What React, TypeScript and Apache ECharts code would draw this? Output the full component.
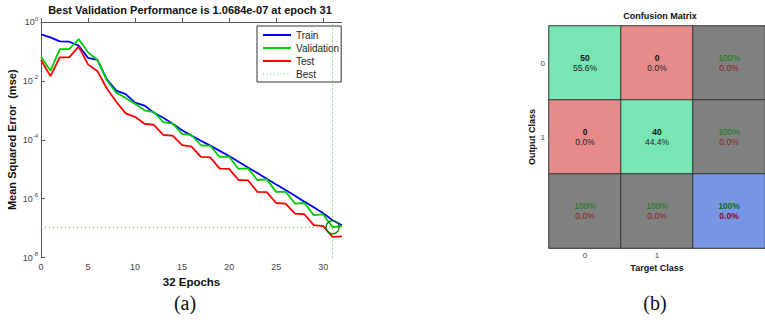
import React, { useEffect, useRef } from 'react';
import * as echarts from 'echarts';

const epochs = [0, 1, 2, 3, 4, 5, 6, 7, 8, 9, 10, 11, 12, 13, 14, 15, 16, 17, 18, 19, 20, 21, 22, 23, 24, 25, 26, 27, 28, 29, 30, 31, 32];
const trainMse = [0.38, 0.302, 0.219, 0.214, 0.158, 0.0603, 0.0513, 0.0112, 0.00468, 0.00355, 0.00182, 0.00145, 8.3e-4, 5.6e-4, 3.5e-4, 2.1e-4, 1.38e-4, 9.3e-5, 6.3e-5, 4.2e-5, 2.8e-5, 1.8e-5, 1.15e-5, 7.4e-6, 4.7e-6, 3.0e-6, 1.95e-6, 1.26e-6, 7.9e-7, 5.1e-7, 3.2e-7, 1.85e-7, 1.25e-7];
const validationMse = [0.066, 0.0219, 0.12, 0.12, 0.263, 0.0933, 0.0513, 0.0105, 0.00398, 0.00263, 0.00166, 0.001, 8.7e-4, 4.0e-4, 3.5e-4, 1.58e-4, 1.45e-4, 6.5e-5, 6.2e-5, 2.6e-5, 2.65e-5, 1.02e-5, 1.07e-5, 4.3e-6, 4.5e-6, 1.7e-6, 1.74e-6, 6.8e-7, 7.1e-7, 2.75e-7, 2.9e-7, 1.0684e-7, 1.17e-7];
const testMse = [0.0513, 0.0145, 0.063, 0.063, 0.145, 0.0363, 0.0214, 0.0055, 0.00195, 7.9e-4, 6.0e-4, 3.5e-4, 3.2e-4, 1.45e-4, 1.38e-4, 6.6e-5, 5.8e-5, 2.6e-5, 2.5e-5, 1.05e-5, 1.02e-5, 4.3e-6, 4.2e-6, 1.7e-6, 1.66e-6, 7.1e-7, 6.8e-7, 3.1e-7, 2.95e-7, 1.26e-7, 1.17e-7, 5.0e-8, 5.2e-8];
const bestEpoch = 31;
const bestValidation = 1.0684e-7;
const yExponentTicks = [-8, -6, -4, -2, 0];

const classLabels = ['0', '1'];
const confusionCounts = [
  [50, 0],
  [0, 40],
];

const FONT = '"Liberation Sans", Arial, Helvetica, sans-serif';

function fmtExp(v: number): string {
  const [m, e] = v.toExponential(4).split('e');
  const sign = e[0] === '-' ? '-' : '+';
  const digits = e.replace(/[+-]/, '').padStart(2, '0');
  return `${m}e${sign}${digits}`;
}

function fmtPct(v: number): string {
  return v >= 99.95 ? '100%' : v.toFixed(1) + '%';
}

export default function App() {
  const ref = useRef<HTMLDivElement>(null);

  useEffect(() => {
    document.body.style.margin = '0';
    const chart = echarts.init(ref.current!, null, { renderer: 'svg' });

    const toLog = (arr: number[]) => epochs.map((e, i) => [e, Math.log10(arr[i])]);
    const bestLog = Math.log10(bestValidation);

    // confusion matrix cells; third value = cell kind (0 correct, 1 wrong, 2 summary, 3 overall)
    const n = classLabels.length;
    const total = confusionCounts.reduce((s, row) => s + row.reduce((a, b) => a + b, 0), 0);
    const cells: any[] = [];
    for (let r = 0; r <= n; r++) {
      for (let c = 0; c <= n; c++) {
        let kind = 2;
        let text = '';
        if (r < n && c < n) {
          const cnt = confusionCounts[r][c];
          kind = r === c ? 0 : 1;
          text = `{cnt|${cnt}}\n{pct|${((cnt / total) * 100).toFixed(1)}%}`;
        } else if (r < n && c === n) {
          const rowSum = confusionCounts[r].reduce((a, b) => a + b, 0);
          const ok = rowSum ? (confusionCounts[r][r] / rowSum) * 100 : 0;
          text = `{ok|${fmtPct(ok)}}\n{bad|${fmtPct(100 - ok)}}`;
        } else if (r === n && c < n) {
          const colSum = confusionCounts.reduce((a, row) => a + row[c], 0);
          const ok = colSum ? (confusionCounts[c][c] / colSum) * 100 : 0;
          text = `{ok|${fmtPct(ok)}}\n{bad|${fmtPct(100 - ok)}}`;
        } else {
          let diag = 0;
          for (let k = 0; k < n; k++) diag += confusionCounts[k][k];
          const ok = (diag / total) * 100;
          kind = 3;
          text = `{okb|${fmtPct(ok)}}\n{badb|${fmtPct(100 - ok)}}`;
        }
        cells.push({ value: [c, r, kind], label: { formatter: text } });
      }
    }

    const dotted = { color: '#44bb44', width: 1, type: [1, 3] as any };

    chart.setOption({
      animation: false,
      textStyle: { fontFamily: FONT },
      graphic: [
        {
          type: 'text', x: 190, y: 10,
          style: { text: `Best Validation Performance is ${fmtExp(bestValidation)} at epoch ${bestEpoch}`, font: `bold 11px ${FONT}`, fill: '#111', align: 'center', verticalAlign: 'middle' },
        },
        {
          type: 'text', x: 185, y: 303,
          style: { text: '(a)', font: '20px "Liberation Serif", "Times New Roman", serif', fill: '#111', align: 'center', verticalAlign: 'middle' },
        },
        {
          type: 'text', x: 660, y: 16,
          style: { text: 'Confusion Matrix', font: `bold 9px ${FONT}`, fill: '#111', align: 'center', verticalAlign: 'middle' },
        },
        {
          type: 'text', x: 655, y: 303,
          style: { text: '(b)', font: '20px "Liberation Serif", "Times New Roman", serif', fill: '#111', align: 'center', verticalAlign: 'middle' },
        },
      ],
      visualMap: {
        type: 'piecewise', show: false, seriesIndex: 4, dimension: 2,
        pieces: [
          { value: 0, color: '#78E6B4' },
          { value: 1, color: '#E68A8A' },
          { value: 2, color: '#808080' },
          { value: 3, color: '#7896E6' },
        ],
      },
      legend: {
        data: [
          'Train',
          'Validation',
          'Test',
          { name: 'Best', lineStyle: { color: '#66cc66', width: 1.2, type: [1, 2.5] } },
        ],
        orient: 'vertical',
        left: 257,
        top: 26,
        itemWidth: 28,
        itemHeight: 10,
        itemGap: 3,
        padding: [4, 2, 3, 5],
        borderColor: '#333',
        borderWidth: 1,
        backgroundColor: '#fff',
        itemStyle: { opacity: 0 },
        textStyle: { fontSize: 10, color: '#222', fontFamily: FONT, lineHeight: 10 },
      },
      grid: [
        { left: 41, top: 22, width: 301, height: 235.5 },
        { left: 549, top: 26, width: 222, height: 222 },
      ],
      xAxis: [
        {
          type: 'value', gridIndex: 0, min: 0, max: 32, interval: 5,
          axisLine: { lineStyle: { color: '#555' } },
          axisTick: { inside: true, length: 4, lineStyle: { color: '#555' } },
          axisLabel: { fontSize: 9, color: '#444', margin: 5, showMaxLabel: false },
          splitLine: { show: false },
          name: '32 Epochs', nameLocation: 'middle', nameGap: 16,
          nameTextStyle: { fontWeight: 'bold', fontSize: 11.5, color: '#111' },
        },
        {
          type: 'category', gridIndex: 1, data: [...classLabels, ''],
          axisLine: { lineStyle: { color: '#aaa', width: 1.5 } },
          axisTick: { show: false },
          axisLabel: { fontSize: 8, color: '#444', margin: 3 },
          splitLine: { show: false },
          name: 'Target Class', nameLocation: 'middle', nameGap: 13,
          nameTextStyle: { fontWeight: 'bold', fontSize: 9, color: '#111' },
        },
      ],
      yAxis: [
        {
          type: 'value', gridIndex: 0, min: -8, max: 0, interval: 2,
          axisLine: { show: true, lineStyle: { color: '#555' } },
          axisTick: { show: true, inside: true, length: 4, lineStyle: { color: '#555' } },
          axisLabel: {
            margin: 3,
            formatter: (v: number) => (yExponentTicks.includes(v) ? `{n|10}{s|${v}}` : ''),
            rich: {
              n: { fontSize: 9, color: '#444', fontFamily: FONT },
              s: { fontSize: 6, color: '#444', fontFamily: FONT, padding: [0, 0, 7, 0] },
            },
          },
          splitLine: { show: false },
          name: 'Mean Squared Error  (mse)', nameLocation: 'middle', nameGap: 24, nameRotate: 90,
          nameTextStyle: { fontWeight: 'bold', fontSize: 11, color: '#111' },
        },
        {
          type: 'category', gridIndex: 1, data: [...classLabels, ''], inverse: true,
          axisLine: { show: false },
          axisTick: { show: false },
          axisLabel: { fontSize: 8, color: '#444', margin: 4 },
          splitLine: { show: false },
          name: 'Output Class', nameLocation: 'middle', nameGap: 11, nameRotate: 90,
          nameTextStyle: { fontWeight: 'bold', fontSize: 9, color: '#111' },
        },
      ],
      series: [
        {
          name: 'Best', type: 'line', xAxisIndex: 0, yAxisIndex: 0,
          data: [[0, bestLog], [bestEpoch, bestLog]],
          symbol: 'none', lineStyle: dotted, itemStyle: { color: '#44bb44' },
          markLine: {
            silent: true, symbol: ['none', 'none'], label: { show: false },
            lineStyle: dotted, data: [{ xAxis: bestEpoch }],
          },
        },
        {
          name: 'Train', type: 'line', xAxisIndex: 0, yAxisIndex: 0,
          data: toLog(trainMse), symbol: 'none',
          lineStyle: { color: '#0000ff', width: 1.8 }, itemStyle: { color: '#0000ff' },
        },
        {
          name: 'Validation', type: 'line', xAxisIndex: 0, yAxisIndex: 0,
          data: toLog(validationMse), symbol: 'none',
          lineStyle: { color: '#00cc00', width: 1.8 }, itemStyle: { color: '#00cc00' },
        },
        {
          name: 'Test', type: 'line', xAxisIndex: 0, yAxisIndex: 0,
          data: toLog(testMse), symbol: 'none',
          lineStyle: { color: '#ff0000', width: 1.8 }, itemStyle: { color: '#ff0000' },
          markPoint: {
            silent: true,
            symbol: 'circle', symbolSize: 13,
            itemStyle: { color: 'rgba(0,0,0,0)', borderColor: '#007a00', borderWidth: 1.3, opacity: 1 },
            label: { show: false },
            data: [{ coord: [bestEpoch, bestLog] }],
          },
        },
        {
          name: 'Confusion', type: 'heatmap', xAxisIndex: 1, yAxisIndex: 1,
          data: cells,
          itemStyle: { borderColor: '#333', borderWidth: 1 },
          label: {
            show: true,
            rich: {
              cnt: { fontSize: 8.5, fontWeight: 'bold', color: '#111', lineHeight: 10, fontFamily: FONT },
              pct: { fontSize: 8.5, color: '#222', lineHeight: 10, fontFamily: FONT },
              ok: { fontSize: 8.5, color: '#0f7a0f', lineHeight: 10, fontFamily: FONT },
              bad: { fontSize: 8.5, color: '#8b1a1a', lineHeight: 10, fontFamily: FONT },
              okb: { fontSize: 8.5, fontWeight: 'bold', color: '#0b6b3a', lineHeight: 10, fontFamily: FONT },
              badb: { fontSize: 8.5, fontWeight: 'bold', color: '#8b0a1a', lineHeight: 10, fontFamily: FONT },
            },
          },
          emphasis: { disabled: true },
        },
      ],
    });

    return () => chart.dispose();
  }, []);

  return <div ref={ref} style={{ width: 765, height: 322 }} />;
}
